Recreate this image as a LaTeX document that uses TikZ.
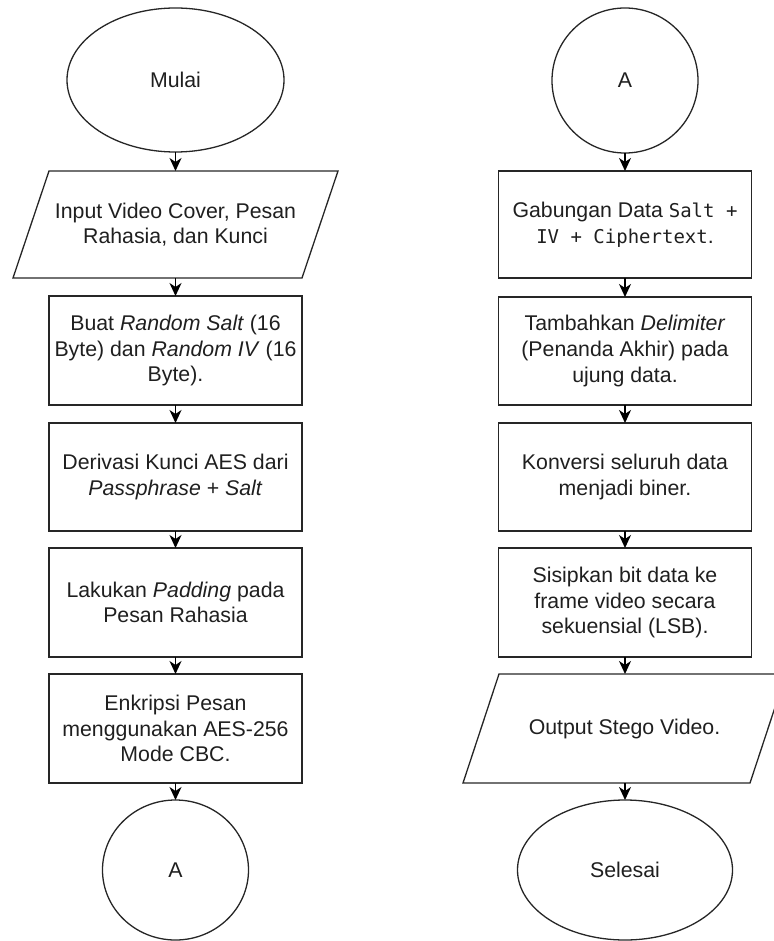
\documentclass[tikz,border=0pt]{standalone}
\usepackage{fontspec}
\setmainfont{Liberation Sans}
\newfontfamily\monof{DejaVu Sans Mono}
\usetikzlibrary{shapes.geometric,arrows.meta,calc}
\tikzset{
  base/.style={inner sep=0pt, outer sep=0pt, align=center, text=black!88,
    font=\fontsize{21.3}{25.6}\selectfont},
  shp/.style={draw=black!85, line width=1.3pt},
  term/.style={base, shp, ellipse},
  procbox/.style={base, shp, rectangle, minimum width=253pt, minimum height=108pt},
  iobox/.style={base, rectangle, minimum height=108pt},
  arr/.style={draw=black, line width=1.3pt, -{Stealth[length=13pt,width=12pt,inset=4pt]}}
}
\newcommand{\mon}[1]{{\fontsize{19}{25.6}\monof #1}}
\begin{document}
\begin{tikzpicture}[x=1pt,y=-1pt]
\useasboundingbox (0,0) rectangle (773,941);

% left column
\node[term, minimum width=217pt, minimum height=144pt] (mulai) at (175.5,80) {Mulai};
\node[iobox, minimum width=289pt, minimum height=107pt] (input) at (175.5,224.5) {Input Video Cover, Pesan\\Rahasia, dan Kunci};
\draw[shp] ($(input.south west)+(-18,0)$) -- ($(input.south east)+(-18,0)$) -- ($(input.north east)+(18,0)$) -- ($(input.north west)+(18,0)$) -- cycle;
\node[procbox, minimum height=109pt] (buat) at (175.5,350.5) {Buat \textit{Random Salt} (16\\Byte) dan \textit{Random IV} (16\\Byte).};
\node[procbox] (deriv) at (175.5,477) {Derivasi Kunci AES dari\\\textit{Passphrase} + \textit{Salt}};
\node[procbox, minimum height=109pt] (pad) at (175.5,602.5) {Lakukan \textit{Padding} pada\\Pesan Rahasia};
\node[procbox, minimum height=109pt] (enk) at (175.5,728.5) {Enkripsi Pesan\\menggunakan AES-256\\Mode CBC.};
\node[term, minimum width=146pt, minimum height=140pt] (a1) at (175.5,870) {A};

% right column
\node[term, minimum width=146pt, minimum height=145pt] (a2) at (625,80.5) {A};
\node[procbox, minimum height=107pt] (gab) at (625,224.5) {Gabungan Data \mon{Salt +}\\\mon{IV + Ciphertext}.};
\node[procbox] (tam) at (625,351) {Tambahkan \textit{Delimiter}\\(Penanda Akhir) pada\\ujung data.};
\node[procbox] (kon) at (625,477) {Konversi seluruh data\\menjadi biner.};
\node[procbox, minimum height=109pt] (sis) at (625,602.5) {Sisipkan bit data ke\\frame video secara\\sekuensial (LSB).};
\node[iobox, minimum width=287pt, minimum height=109pt] (out) at (624.5,728.5) {Output Stego Video.};
\draw[shp] ($(out.south west)+(-18,0)$) -- ($(out.south east)+(-18,0)$) -- ($(out.north east)+(18,0)$) -- ($(out.north west)+(18,0)$) -- cycle;
\node[term, minimum width=215pt, minimum height=140pt] (sel) at (625,870) {Selesai};

% connectors
\draw[arr] (mulai.south) -- (input.north);
\draw[arr] (input.south) -- (buat.north);
\draw[arr] (buat.south) -- (deriv.north);
\draw[arr] (deriv.south) -- (pad.north);
\draw[arr] (pad.south) -- (enk.north);
\draw[arr] (enk.south) -- (a1.north);

\draw[arr] (a2.south) -- (gab.north);
\draw[arr] (gab.south) -- (tam.north);
\draw[arr] (tam.south) -- (kon.north);
\draw[arr] (kon.south) -- (sis.north);
\draw[arr] (sis.south) -- (out.north -| sis.south);
\draw[arr] (out.south -| sel.north) -- (sel.north);
\end{tikzpicture}
\end{document}
